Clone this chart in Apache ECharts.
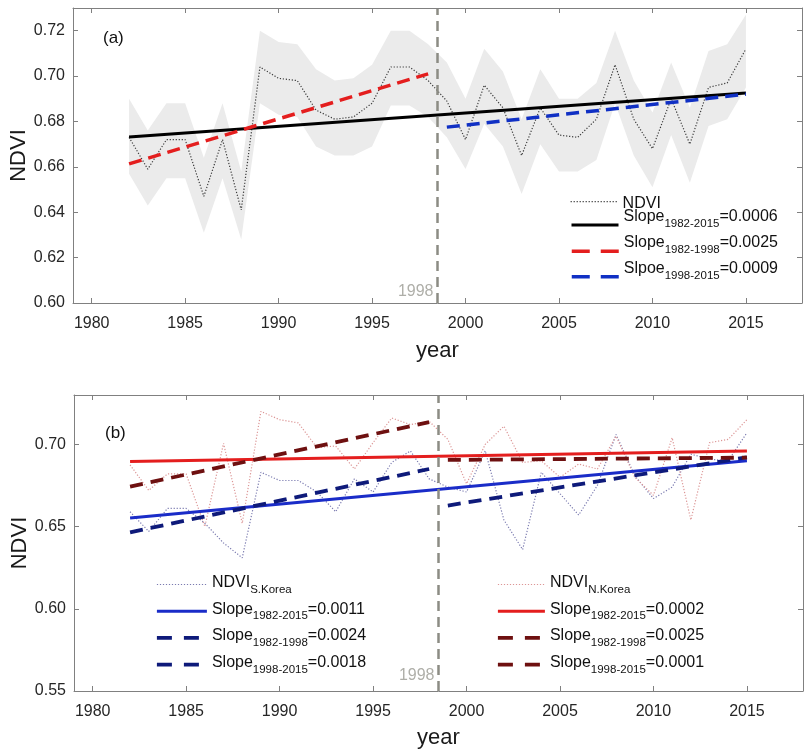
<!DOCTYPE html>
<html><head><meta charset="utf-8">
<script src="https://cdn.jsdelivr.net/npm/echarts@6/dist/echarts.min.js"></script>
<style>html,body{margin:0;padding:0;background:#fff}#c{width:811px;height:754px}</style>
</head><body><div id="c"></div>
<script>
// ---------------- data ----------------
const years = [1982,1983,1984,1985,1986,1987,1988,1989,1990,1991,1992,1993,1994,1995,1996,1997,1998,1999,2000,2001,2002,2003,2004,2005,2006,2007,2008,2009,2010,2011,2012,2013,2014,2015];
// panel (a) NDVI and its shaded range
const ndviA   = [0.673,0.659,0.672,0.672,0.647,0.672,0.641,0.704,0.699,0.698,0.685,0.681,0.682,0.688,0.704,0.704,0.698,0.689,0.672,0.696,0.686,0.665,0.686,0.674,0.673,0.681,0.705,0.681,0.668,0.690,0.670,0.695,0.697,0.712];
const bandHiA = [0.690,0.676,0.688,0.688,0.664,0.688,0.658,0.720,0.715,0.714,0.703,0.698,0.699,0.705,0.720,0.720,0.714,0.706,0.690,0.712,0.702,0.681,0.703,0.690,0.690,0.697,0.720,0.698,0.684,0.706,0.686,0.711,0.714,0.727];
const bandLoA = [0.657,0.643,0.655,0.655,0.631,0.655,0.628,0.688,0.683,0.682,0.669,0.665,0.665,0.669,0.687,0.687,0.682,0.673,0.659,0.679,0.669,0.648,0.670,0.658,0.658,0.663,0.688,0.665,0.651,0.674,0.653,0.678,0.681,0.695];
// panel (b)
const ndviSK = [0.659,0.647,0.661,0.661,0.652,0.640,0.631,0.683,0.678,0.678,0.671,0.659,0.679,0.671,0.689,0.696,0.679,0.674,0.671,0.696,0.654,0.636,0.683,0.670,0.657,0.675,0.706,0.681,0.667,0.674,0.694,0.691,0.690,0.707];
const ndviNK = [0.6875,0.672,0.682,0.682,0.650,0.7006,0.652,0.720,0.715,0.713,0.698,0.699,0.685,0.701,0.716,0.712,0.714,0.703,0.676,0.700,0.711,0.689,0.690,0.680,0.688,0.685,0.705,0.680,0.669,0.704,0.654,0.701,0.703,0.715];
// trend line end points
const yrsAll  = [1982, 2015];
const yrsPre  = [1982, 1998];
const yrsPost = [1999, 2015];
const trendA_all  = [0.6732, 0.6925];
const trendA_pre  = [0.6613, 0.7010];
const trendA_post = [0.6775, 0.6920];
const trendSK_all  = [0.6552, 0.6900];
const trendSK_pre  = [0.6465, 0.6850];
const trendSK_post = [0.6628, 0.6921];
const trendNK_all  = [0.6895, 0.6960];
const trendNK_pre  = [0.6743, 0.7135];
const trendNK_post = [0.6905, 0.6919];
// axes / annotations
const xTicks  = [1980,1985,1990,1995,2000,2005,2010,2015];
const yTicksA = [0.60,0.62,0.64,0.66,0.68,0.70,0.72];
const yTicksB = [0.55,0.60,0.65,0.70];
const breakX = 1998.5;
const breakLabel = '1998';
const legendText = {
  a_ndvi: '{n|NDVI}',
  a_all:  '{m|Slope}{s|1982-2015}{m|=0.0006}',
  a_pre:  '{m|Slope}{s|1982-1998}{m|=0.0025}',
  a_post: '{m|Slpoe}{s|1998-2015}{m|=0.0009}',
  sk:     '{m|NDVI}{s|S.Korea}',
  sk_all: '{m|Slope}{s|1982-2015}{m|=0.0011}',
  sk_pre: '{m|Slope}{s|1982-1998}{m|=0.0024}',
  sk_post:'{m|Slope}{s|1998-2015}{m|=0.0018}',
  nk:     '{m|NDVI}{s|N.Korea}',
  nk_all: '{m|Slope}{s|1982-2015}{m|=0.0002}',
  nk_pre: '{m|Slope}{s|1982-1998}{m|=0.0025}',
  nk_post:'{m|Slope}{s|1998-2015}{m|=0.0001}'
};

// ---------------- build ----------------
const FONT = '"Liberation Sans", Arial, Helvetica, sans-serif';
const AX = '#808080';
const pair = (xs, ys) => xs.map((x, i) => [x, ys[i]]);

function xAxisCfg(grid, pos, withLabels) {
  return {
    type: 'value', gridIndex: grid, position: pos, min: 1979, max: 2018, z: 10,
    axisLine: { show: true, onZero: false, lineStyle: { color: AX, width: 1 } },
    axisTick: { show: true, inside: true, length: 5, customValues: xTicks, lineStyle: { color: AX } },
    axisLabel: withLabels ? { show: true, customValues: xTicks, margin: 13, fontSize: 16, color: '#262626', fontFamily: FONT, formatter: v => String(v) } : { show: false },
    splitLine: { show: false },
    name: withLabels ? 'year' : '', nameLocation: 'middle', nameGap: grid === 0 ? 37 : 36,
    nameTextStyle: { fontSize: 22, color: '#1a1a1a', fontFamily: FONT }
  };
}
function yAxisCfg(grid, pos, withLabels, min, max, ticks) {
  return {
    type: 'value', gridIndex: grid, position: pos, min: min, max: max, z: 10,
    axisLine: { show: true, onZero: false, lineStyle: { color: AX, width: 1 } },
    axisTick: { show: true, inside: true, length: 5, customValues: ticks, lineStyle: { color: AX } },
    axisLabel: withLabels ? { show: true, customValues: ticks, margin: 8, fontSize: 16, color: '#262626', fontFamily: FONT, formatter: v => v.toFixed(2) } : { show: false },
    splitLine: { show: false },
    name: withLabels ? 'NDVI' : '', nameLocation: 'middle', nameGap: 43, nameMoveOverlap: false,
    nameTextStyle: { fontSize: 22, color: '#1a1a1a', fontFamily: FONT }
  };
}
function line(name, grid, xs, ys, color, width, type, z) {
  return {
    type: 'line', name: name, xAxisIndex: grid * 2, yAxisIndex: grid * 2,
    data: pair(xs, ys), symbol: 'none', showSymbol: false, silent: true, z: z || 3,
    lineStyle: { color: color, width: width, type: type, cap: 'butt' },
    itemStyle: { color: color }, emphasis: { disabled: true }
  };
}
function breakSeries(grid, yMin, offY) {
  return {
    type: 'scatter', xAxisIndex: grid * 2, yAxisIndex: grid * 2, silent: true,
    data: [[breakX, yMin]], symbolSize: 0, z: 5,
    label: { show: true, formatter: breakLabel, position: [-4, offY], align: 'right', verticalAlign: 'middle',
             fontSize: 16, color: '#9a9a92', fontFamily: FONT },
    markLine: { silent: true, symbol: ['none', 'none'], label: { show: false },
      lineStyle: { color: '#8c8c84', width: 2.5, type: [10, 6] },
      data: [{ xAxis: breakX }] }
  };
}

const RED = '#e41e1e', BLUE = '#1030c4', NAVY = '#0e1a7a', DRED = '#6e1010', SBLUE = '#1a2cc8';
const DOT = [1.2, 1.8];

const series = [
  // panel (a) shaded range, drawn as one polygon through the axis scales
  { type: 'custom', name: 'band', xAxisIndex: 0, yAxisIndex: 0, silent: true, z: 1,
    data: pair(years, bandHiA), clip: true,
    renderItem: function (params, api) {
      if (params.dataIndex !== 0) return null;
      const up = years.map((y, i) => api.coord([y, bandHiA[i]]));
      const lo = years.map((y, i) => api.coord([y, bandLoA[i]])).reverse();
      return { type: 'polygon', shape: { points: up.concat(lo) }, style: { fill: '#ebebeb', stroke: null } };
    } },
  line('a_ndvi', 0, years, ndviA, '#3a3a3a', 1.2, DOT, 2),
  line('a_all', 0, yrsAll, trendA_all, '#000000', 3, 'solid'),
  line('a_pre', 0, yrsPre, trendA_pre, RED, 3.5, [13, 7]),
  line('a_post', 0, yrsPost, trendA_post, BLUE, 3.5, [13, 7]),
  breakSeries(0, 0.60, -11),
  // panel (b)
  line('sk', 1, years, ndviSK, '#7b7bb0', 1.2, DOT, 2),
  line('nk', 1, years, ndviNK, '#dc9696', 1.2, DOT, 2),
  line('sk_all', 1, yrsAll, trendSK_all, SBLUE, 3, 'solid'),
  line('nk_all', 1, yrsAll, trendNK_all, RED, 3, 'solid'),
  line('sk_pre', 1, yrsPre, trendSK_pre, NAVY, 3.8, [13, 8]),
  line('nk_pre', 1, yrsPre, trendNK_pre, DRED, 3.8, [13, 8]),
  line('sk_post', 1, yrsPost, trendSK_post, NAVY, 3.8, [13, 8]),
  line('nk_post', 1, yrsPost, trendNK_post, DRED, 3.8, [13, 8]),
  breakSeries(1, 0.55, -15)
];

// rich text: panel (a) has the main text well above the sample line, panel (b) nearly centred
const richA = {
  n: { fontSize: 16, lineHeight: 16, padding: [4, 0, 0, 0], color: '#111', fontFamily: FONT },
  m: { fontSize: 16, lineHeight: 18, padding: [0, 0, 17, 0], color: '#111', fontFamily: FONT },
  s: { fontSize: 11.5, lineHeight: 12, padding: [0, 0, 2, 0], color: '#111', fontFamily: FONT }
};
const richB = {
  m: { fontSize: 16, lineHeight: 18, padding: [0, 0, 4, 0], color: '#111', fontFamily: FONT },
  s: { fontSize: 11.5, lineHeight: 12, padding: [10, 0, 0, 0], color: '#111', fontFamily: FONT }
};
function legendCfg(left, top, gap, w, rich, items) {
  return {
    orient: 'vertical', left: left, top: top, itemGap: gap, itemWidth: w, itemHeight: 10, padding: 0,
    selectedMode: false, itemStyle: { opacity: 0 },
    data: items,
    formatter: n => legendText[n],
    textStyle: { rich: rich, fontSize: 16, color: '#111', fontFamily: FONT }
  };
}
const dotLeg = { width: 1.2, type: [1.2, 1.8] };
const option = {
  animation: false,
  backgroundColor: '#ffffff',
  grid: [
    { left: 73, top: 8, right: 9, height: 295, outerBoundsMode: 'none', containLabel: false },
    { left: 74, top: 395, right: 8, height: 296, outerBoundsMode: 'none', containLabel: false }
  ],
  xAxis: [xAxisCfg(0, 'bottom', true), xAxisCfg(0, 'top', false), xAxisCfg(1, 'bottom', true), xAxisCfg(1, 'top', false)],
  yAxis: [
    yAxisCfg(0, 'left', true, 0.60, 0.73, yTicksA), yAxisCfg(0, 'right', false, 0.60, 0.73, yTicksA),
    yAxisCfg(1, 'left', true, 0.55, 0.73, yTicksB), yAxisCfg(1, 'right', false, 0.55, 0.73, yTicksB)
  ],
  legend: [
    legendCfg(570, 191.7, 0, 47, richA, [{ name: 'a_ndvi', lineStyle: dotLeg }]),
    legendCfg(570, 208.5, 0, 47, richA, [{ name: 'a_all', lineStyle: { width: 3, type: 'solid' } }]),
    legendCfg(570, 234.8, 0, 47, richA, [{ name: 'a_pre', lineStyle: { width: 3.5, type: [18, 11] } }]),
    legendCfg(570, 260.2, 0, 47, richA, [{ name: 'a_post', lineStyle: { width: 3.5, type: [18, 11] } }]),
    legendCfg(155, 573.5, 4.7, 50, richB, [
      { name: 'sk', lineStyle: dotLeg },
      { name: 'sk_all', lineStyle: { width: 3, type: 'solid' } },
      { name: 'sk_pre', lineStyle: { width: 3.8, type: [15, 12] } },
      { name: 'sk_post', lineStyle: { width: 3.8, type: [15, 12] } }
    ]),
    legendCfg(496, 573.5, 4.7, 47, richB, [
      { name: 'nk', lineStyle: dotLeg },
      { name: 'nk_all', lineStyle: { width: 3, type: 'solid' } },
      { name: 'nk_pre', lineStyle: { width: 3.8, type: [15, 12] } },
      { name: 'nk_post', lineStyle: { width: 3.8, type: [15, 12] } }
    ])
  ],
  graphic: [
    { type: 'text', left: 103, top: 30, style: { text: '(a)', fontSize: 17, fill: '#111', fontFamily: FONT } },
    { type: 'text', left: 105, top: 425, style: { text: '(b)', fontSize: 17, fill: '#111', fontFamily: FONT } }
  ],
  series: series
};
const chart = echarts.init(document.getElementById('c'), null, { renderer: 'canvas' });
chart.setOption(option);
</script>
</body></html>
